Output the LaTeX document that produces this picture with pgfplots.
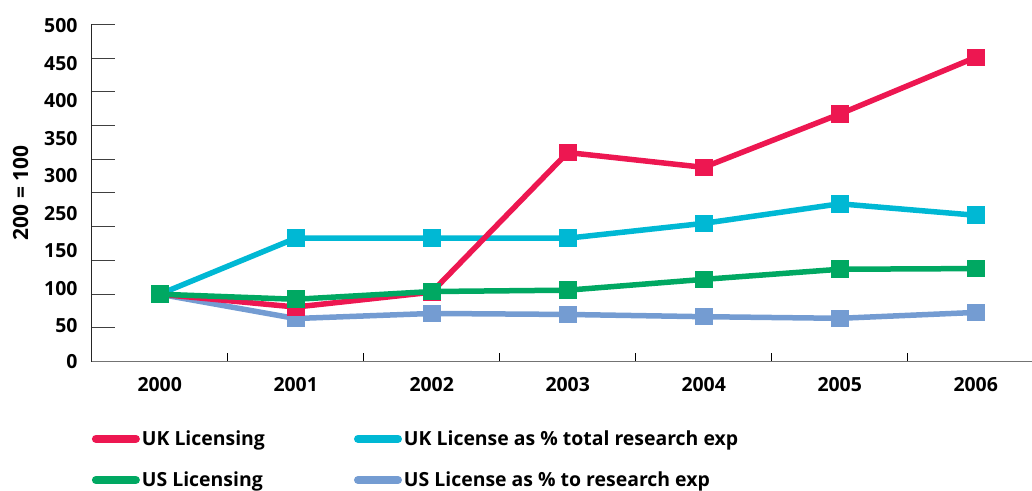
\documentclass[border=0pt]{standalone}
\usepackage{fontspec}
\setmainfont{Open Sans}
\usepackage{pgfplots}
\pgfplotsset{compat=1.18}
\definecolor{ukred}{RGB}{237,23,81}
\definecolor{ukcyan}{RGB}{0,184,212}
\definecolor{usgreen}{RGB}{0,168,98}
\definecolor{usblue}{RGB}{116,156,210}
\begin{document}
\begin{tikzpicture}
\begin{axis}[
  at={(91.7bp,129.3bp)}, anchor=south west,
  scale only axis, width=940.3bp, height=337.4bp,
  xmin=-0.5, xmax=6.414, ymin=0, ymax=500,
  clip=false,
  axis lines*=left,
  x axis line style={draw=black!55, line width=1.3bp},
  y axis line style={draw=black!85, line width=1.3bp},
  tick align=inside,
  xtick={0,...,6},
  xticklabels={2000,2001,2002,2003,2004,2005,2006},
  major x tick style={draw=none},
  minor xtick={0.5,1.5,2.5,3.5,4.5,5.5},
  minor tick length=9bp,
  minor x tick style={draw=black, line width=1bp},
  ytick={0,50,...,500}, yticklabels={},
  major tick length=23bp,
  major y tick style={draw=black!75, line width=1bp},
  extra y ticks={0,53.1,108.6,164.2,219.7,275.3,330.8,386.4,441.9,497.5},
  extra y tick labels={0,50,100,150,250,300,350,400,450,500},
  extra y tick style={major tick length=0pt, major y tick style={draw=none}},
  /pgf/number format/assume math mode=true,
  ticklabel style={font=\fontsize{19.5}{24}\selectfont\bfseries},
  xticklabel style={anchor=center, inner sep=0pt, yshift=-23bp},
  yticklabel style={anchor=east, inner sep=0pt, xshift=-14bp},
  ylabel={200 = 100},
  every axis y label/.style={at={(axis description cs:-0.0757,0.5)}, rotate=90, anchor=center, font=\fontsize{21}{24}\selectfont\bfseries},
  legend columns=2,
  legend cell align=left,
  legend style={draw=none, fill=none, at={(0,-0.198)}, anchor=north west,
    font=\fontsize{19.5}{24}\selectfont\bfseries, row sep=21bp, inner sep=0pt,
    nodes={inner sep=2bp},
    /tikz/every even column/.append style={column sep=87bp}},
  legend image code/.code={\draw[#1, line width=8bp, line cap=round] (4bp,0bp) -- (44bp,0bp);},
  every axis plot/.append style={line width=5.5bp, mark=square*, mark size=8.3bp},
]
\addlegendimage{ukred}\addlegendentry{UK Licensing}
\addlegendimage{ukcyan}\addlegendentry{UK License as \% total research exp}
\addlegendimage{usgreen}\addlegendentry{US Licensing}
\addlegendimage{usblue}\addlegendentry{US License as \% to research exp}

\addplot[usblue, forget plot, mark options={draw=none, fill=usblue, line width=0pt}] coordinates {(0,100) (1,64) (2,71.5) (3,70) (4,66.7) (5,64.3) (6,73)};
\addplot[ukcyan, forget plot, mark options={draw=none, fill=ukcyan, line width=0pt}] coordinates {(0,100) (1,183) (2,183) (3,183) (4,205) (5,234) (6,217)};
\addplot[ukred, forget plot, mark options={draw=none, fill=ukred, line width=0pt}] coordinates {(0,100) (1,81) (2,103) (3,310) (4,288) (5,367) (6,451)};
\addplot[usgreen, forget plot, mark options={draw=none, fill=usgreen, line width=0pt}] coordinates {(0,100) (1,92.5) (2,104) (3,106) (4,122) (5,137) (6,138)};
\end{axis}
\pgfresetboundingbox
\useasboundingbox (0,0) rectangle (1032bp,491bp);
\end{tikzpicture}
\end{document}
